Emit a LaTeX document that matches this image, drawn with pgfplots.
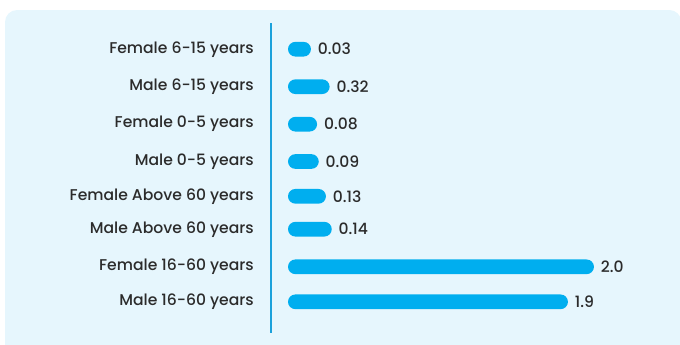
\documentclass[border=0pt]{standalone}
\usepackage{pgfplots}
\usepackage{pgfplotstable}
\pgfplotsset{compat=1.18}
\usepackage{fontspec}
\setmainfont{Poppins}[UprightFont=* Medium]
\definecolor{barblue}{HTML}{00AEEF}
\definecolor{bgblue}{HTML}{E6F6FD}
\definecolor{lineblue}{HTML}{1BA1DB}
\definecolor{txt}{HTML}{2B2B2B}
\pgfplotstableread{
y x label
49.2 0.150 0.03
86.7 0.272 0.32
124.2 0.190 0.08
161.5 0.201 0.09
196.3 0.248 0.13
229.2 0.286 0.14
266.8 2.000 2.0
301.8 1.830 1.9
}\datatable
\begin{document}
\begin{tikzpicture}
\useasboundingbox (0,0) rectangle (510pt,258pt);
\begin{scope}
\clip (0,0) rectangle (510pt,258pt);
\fill[bgblue, rounded corners=9pt] (3.75pt,250.5pt) rectangle (511pt,-15pt);
\end{scope}
\draw[lineblue, line width=1pt] (203.25pt,240.75pt) -- (203.25pt,8.25pt);
\begin{axis}[
  at={(216pt,0pt)}, anchor=south west,
  scale only axis,
  width=285pt, height=258pt,
  xmin=0, xmax=2.484,
  ymin=0, ymax=344, y dir=reverse,
  axis line style={draw=none},
  xtick=\empty,
  ytick={49.2,86.7,124.2,161.5,196.3,229.2,266.8,301.8},
  yticklabels={Female 6-15 years, Male 6-15 years, Female 0-5 years, Male 0-5 years, Female Above 60 years, Male Above 60 years, Female 16-60 years, Male 16-60 years},
  major tick length=0pt,
  yticklabel style={anchor=east, inner sep=0pt, xshift=-25.5pt, font=\fontsize{11.7}{13}\selectfont, text=txt},
  xbar, bar width=11pt, bar shift=0pt,
  point meta=explicit symbolic,
  nodes near coords,
  nodes near coords style={anchor=west, inner sep=0pt, xshift=5pt, font=\fontsize{11.7}{13}\selectfont, text=txt},
  clip=false,
]
\addplot[fill=barblue, draw=none, rounded corners=5.5pt] table[x=x, y=y, meta=label] {\datatable};
\end{axis}
\end{tikzpicture}
\end{document}
